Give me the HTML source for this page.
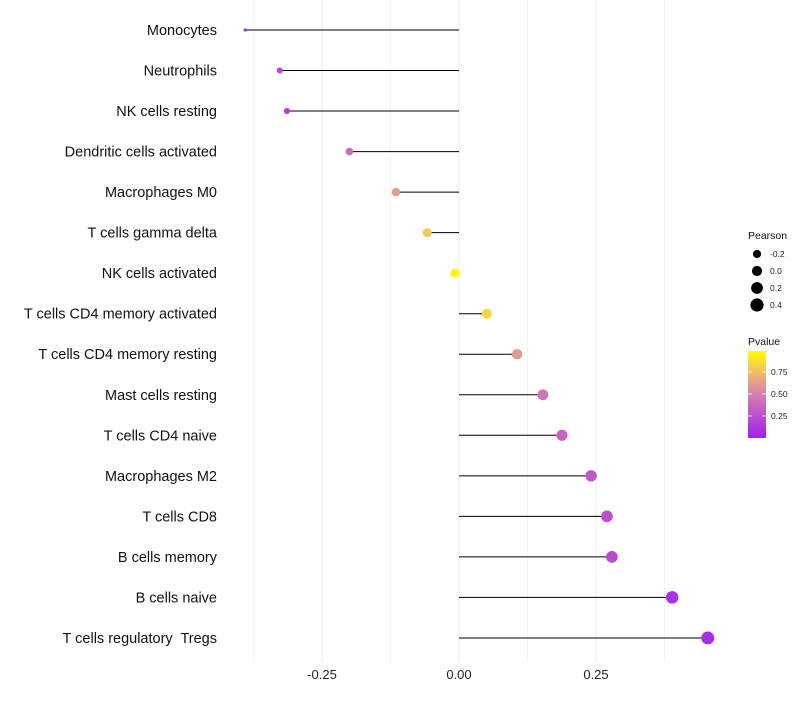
<!DOCTYPE html>
<html><head><meta charset="utf-8"><style>
body{margin:0;background:#fff;}
svg{font-family:"Liberation Sans",sans-serif;}
text{white-space:pre;}
</style></head><body>
<svg id="c" width="800" height="700"></svg>
<script>
const categories=["Monocytes","Neutrophils","NK cells resting","Dendritic cells activated","Macrophages M0","T cells gamma delta","NK cells activated","T cells CD4 memory activated","T cells CD4 memory resting","Mast cells resting","T cells CD4 naive","Macrophages M2","T cells CD8","B cells memory","B cells naive","T cells regulatory  Tregs"];
const pearson=[-0.39,-0.327,-0.314,-0.20,-0.115,-0.058,-0.007,0.051,0.106,0.153,0.188,0.241,0.27,0.279,0.389,0.454];
const pvalue=[0.1,0.2,0.15,0.4,0.62,0.8,0.98,0.85,0.62,0.45,0.35,0.3,0.25,0.22,0.1,0.08];
const xTicks=[-0.25,0,0.25];
const xTickLabels=["-0.25","0.00","0.25"];
const xGrid=[-0.375,-0.25,-0.125,0,0.125,0.25,0.375];
const sizeBreaks=[-0.2,0,0.2,0.4];
const colorTicks=[0.25,0.5,0.75];
const ns="http://www.w3.org/2000/svg",svg=document.getElementById('c');
function mk(t,a,p){const e=document.createElementNS(ns,t);for(const k in a)e.setAttribute(k,a[k]);(p||svg).appendChild(e);return e;}
const X=v=>459+v*548;
const Y=i=>30+i*40.53;
const R=v=>v<-0.36?1.6:Math.sqrt(Math.max(2.25,9+42*(v+0.327)));
function lerp(a,b,t){return a.map((x,i)=>Math.round(x+(b[i]-x)*t));}
const stops=[[0,[160,32,240]],[0.5,[215,125,176]],[0.75,[242,186,106]],[1,[255,255,0]]];
function col(p){for(let i=1;i<stops.length;i++){if(p<=stops[i][0]){const t=(p-stops[i-1][0])/(stops[i][0]-stops[i-1][0]);return 'rgb('+lerp(stops[i-1][1],stops[i][1],t).join(',')+')';}}return 'rgb(255,255,0)';}
xGrid.forEach(v=>{const g=mk('line',{x1:X(v),x2:X(v),y1:0,y2:662,stroke:'#ebebeb','stroke-width':v%0.25===0?1:0.6});

});
xTicks.forEach((v,i)=>{const t=mk('text',{x:X(v),y:679,'text-anchor':'middle','font-size':13,fill:'#222'});t.textContent=xTickLabels[i];

});
categories.forEach((c,i)=>{
const t=mk('text',{x:217,y:Y(i)+5,'text-anchor':'end','font-size':14.5,fill:'#111'});t.textContent=c;


const l=mk('line',{x1:X(0),x2:X(pearson[i]),y1:Y(i),y2:Y(i),stroke:'#000','stroke-width':1});


const d=mk('circle',{cx:X(pearson[i]),cy:Y(i),r:R(pearson[i]),fill:col(pvalue[i])});


});
let t=mk('text',{x:748,y:239,'font-size':10.5,fill:'#111'});t.textContent='Pearson';


sizeBreaks.forEach((v,i)=>{const y=254+i*17;
const c=mk('circle',{cx:757,cy:y,r:R(v)+0.3,fill:'#000'});


const l=mk('text',{x:770,y:y+3,'font-size':8.5,fill:'#222'});l.textContent=v===0?'0.0':v.toFixed(1);

});
t=mk('text',{x:748,y:345,'font-size':10.5,fill:'#111'});t.textContent='Pvalue';


const defs=mk('defs',{});const g=mk('linearGradient',{id:'pg',x1:0,y1:1,x2:0,y2:0},defs);
stops.forEach(s=>mk('stop',{offset:s[0],'stop-color':'rgb('+s[1].join(',')+')'},g));
const bar=mk('rect',{x:748,y:351,width:18,height:87,fill:'url(#pg)'});


colorTicks.forEach(v=>{const y=438-v*88;
mk('line',{x1:748,x2:752,y1:y,y2:y,stroke:'#fff','stroke-width':0.8});mk('line',{x1:762,x2:766,y1:y,y2:y,stroke:'#fff','stroke-width':0.8});
const l=mk('text',{x:771,y:y+3,'font-size':8.5,fill:'#222'});l.textContent=v.toFixed(2);

});
</script>
</body></html>
